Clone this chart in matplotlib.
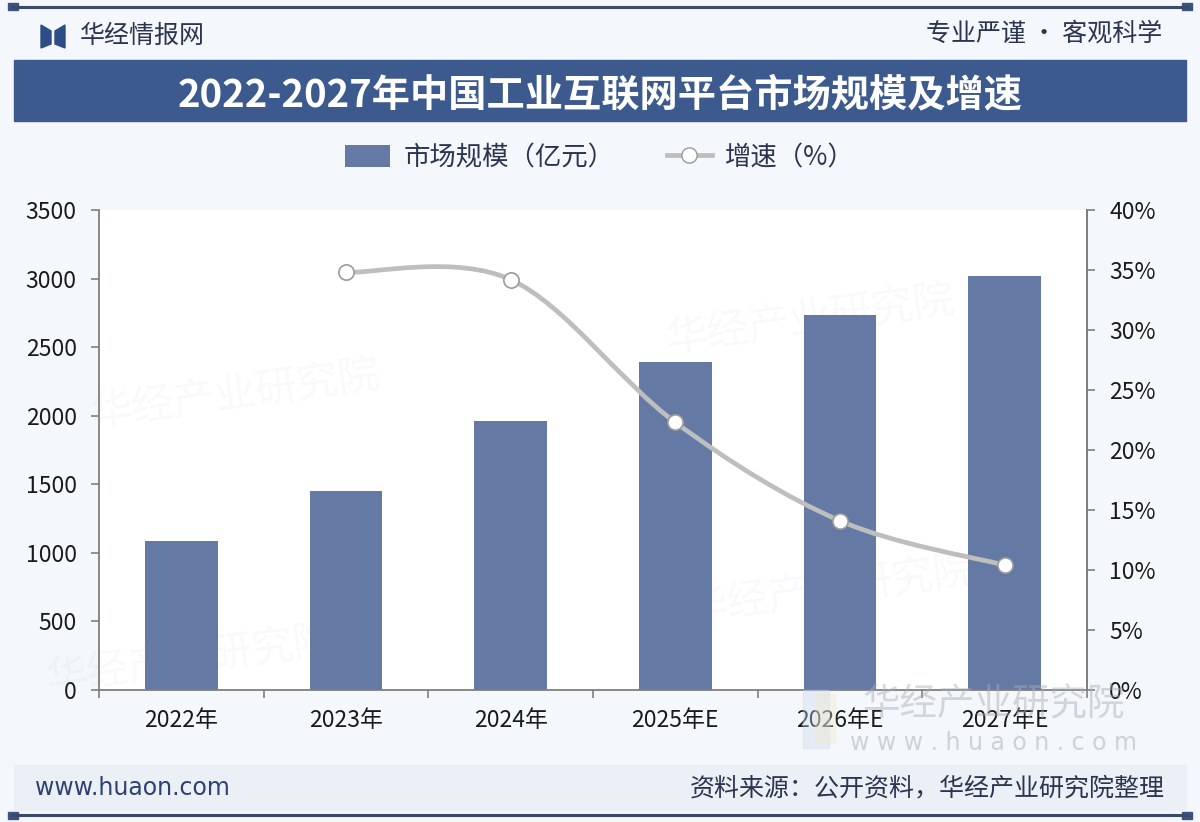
import numpy as np
import matplotlib
matplotlib.use("Agg")
import matplotlib.pyplot as plt
from matplotlib.path import Path
from matplotlib.patches import PathPatch, Rectangle, Polygon, Patch
from matplotlib.lines import Line2D
from matplotlib.ticker import FuncFormatter, MultipleLocator

plt.rcParams["font.family"] = ["Noto Sans CJK SC", "DejaVu Sans"]

# data
years = ["2022年", "2023年", "2024年", "2025年E", "2026年E", "2027年E"]
market_size = [1085, 1450, 1960, 2395, 2735, 3020]        # 亿元
growth = [None, 34.8, 34.2, 22.3, 14.1, 10.4]             # %

bar_color = "#6479A3"
navy = "#3D5A8E"
text_dark = "#2B3550"
line_gray = "#BEBEBE"

fig = plt.figure(figsize=(12, 8.22), dpi=100)
fig.patch.set_facecolor("#F4F7FB")

W, H = 1200, 822


def fx(px):
    return px / W


def fy(py):
    return 1 - py / H


# header lines
for y in (7, 815):
    fig.add_artist(Line2D([fx(12), fx(1188)], [fy(y), fy(y)], color="#3A4A68", lw=2.2))
    for x0 in (8, 1182):
        fig.add_artist(Rectangle((fx(x0), fy(y + 3.5)), fx(10), 7 / H, color="#3A5483"))

# logo
fig.add_artist(Polygon([[fx(41), fy(25)], [fx(51), fy(31)], [fx(51), fy(44)], [fx(41), fy(48)]],
                       closed=True, color="#2E4C86"))
fig.add_artist(Polygon([[fx(55), fy(31)], [fx(65), fy(25)], [fx(65), fy(48)], [fx(55), fy(44)]],
                       closed=True, color="#2E4C86"))
fig.text(fx(80), fy(36), "华经情报网", fontsize=18, color=text_dark, va="center", ha="left")
fig.text(fx(1162), fy(34), "专业严谨 • 客观科学", fontsize=18, color=text_dark, va="center", ha="right")

# title banner
fig.add_artist(Rectangle((fx(14), fy(121)), fx(1172), 61 / H, color=navy))
fig.text(0.5, fy(95), "2022-2027年中国工业互联网平台市场规模及增速", fontsize=27.5,
         fontweight="heavy", color="white", ha="center", va="center")

# footer band
fig.add_artist(Rectangle((fx(14), fy(810)), fx(1172), 45 / H, color="#EBEFF6"))
fig.text(fx(35), fy(788), "www.huaon.com", fontsize=17, color="#2E4170", va="center", ha="left",
         family=["DejaVu Sans"])
fig.text(fx(1165), fy(788), "资料来源：公开资料，华经产业研究院整理", fontsize=18, color=text_dark,
         va="center", ha="right")

# faint watermarks
for (x, y) in [(235, 395), (810, 320), (830, 590), (190, 660)]:
    fig.text(fx(x), fy(y), "华经产业研究院", fontsize=30, color="#8090B0", alpha=0.05,
             ha="center", va="center", rotation=8)

ax = fig.add_axes([fx(99), fy(690), fx(1087 - 99), (690 - 210) / H])
ax.set_facecolor("white")
x = np.arange(len(years))
ax.bar(x, market_size, width=0.44, color=bar_color, zorder=2)
ax.set_xlim(-0.5, len(years) - 0.5)
ax.set_ylim(0, 3500)
ax.yaxis.set_major_locator(MultipleLocator(500))
ax.set_xticks(x)
ax.set_xticklabels(years)
ax.set_xticks(np.arange(-0.5, len(years), 1.0), minor=True)
ax.tick_params(axis="x", which="major", length=0, labelsize=16.5, pad=14, colors="#1A1A1A")
ax.tick_params(axis="x", which="minor", length=6, width=1.2, color="#7F7F7F", direction="out")
ax.tick_params(axis="y", length=6, width=1.2, color="#7F7F7F", labelsize=16.5, pad=10,
               labelcolor="#1A1A1A")
ax.spines["top"].set_visible(False)
for side in ("left", "right", "bottom"):
    ax.spines[side].set_color("#7F7F7F")
    ax.spines[side].set_linewidth(1.3)

ax2 = ax.twinx()
ax2.set_ylim(0, 40)
ax2.yaxis.set_major_locator(MultipleLocator(5))
ax2.yaxis.set_major_formatter(FuncFormatter(lambda v, p: f"{v:.0f}%"))
ax2.tick_params(axis="y", length=6, width=1.2, color="#7F7F7F", labelsize=16.5, pad=10,
                labelcolor="#1A1A1A")
for side in ("top", "left", "bottom"):
    ax2.spines[side].set_visible(False)
ax2.spines["right"].set_color("#7F7F7F")
ax2.spines["right"].set_linewidth(1.3)

# smoothed growth line (Catmull-Rom style bezier, like Excel smoothing)
gx = np.array([i for i, g in enumerate(growth) if g is not None], dtype=float)
gy = np.array([g for g in growth if g is not None], dtype=float)
pts = np.column_stack([gx, gy])
verts = [pts[0]]
codes = [Path.MOVETO]
n = len(pts)
for i in range(n - 1):
    p0 = pts[i - 1] if i > 0 else pts[i]
    p1 = pts[i]
    p2 = pts[i + 1]
    p3 = pts[i + 2] if i + 2 < n else pts[i + 1]
    c1 = p1 + (p2 - p0) / 6
    c2 = p2 - (p3 - p1) / 6
    verts += [c1, c2, p2]
    codes += [Path.CURVE4] * 3
ax2.add_patch(PathPatch(Path(verts, codes), facecolor="none", edgecolor=line_gray, lw=3.4,
                        zorder=3, capstyle="round"))
ax2.plot(gx, gy, linestyle="none", marker="o", markersize=11, markerfacecolor="white",
         markeredgecolor="#9A9A9A", markeredgewidth=1.2, zorder=4)

# bottom-right watermark
fig.add_artist(Rectangle((fx(803), fy(748)), fx(26), 58 / H, color="#C9D9F0", alpha=0.35, zorder=0.5))
fig.add_artist(Rectangle((fx(815), fy(742)), fx(20), 48 / H, color="#F3E8C0", alpha=0.3, zorder=0.5))
fig.text(fx(993), fy(705), "华经产业研究院", fontsize=27, color="#A8ADB6", alpha=0.45,
         ha="center", va="center")
fig.text(fx(993), fy(743), "w w w . h u a o n . c o m", fontsize=17, color="#A8ADB6", alpha=0.5,
         ha="center", va="center", family=["DejaVu Sans"])

# legend
handles = [Patch(facecolor=bar_color, edgecolor="none"),
           Line2D([0], [0], color=line_gray, lw=3.4, marker="o", markersize=11,
                  markerfacecolor="white", markeredgecolor="#9A9A9A")]
fig.legend(handles, ["市场规模（亿元）", "增速（%）"], loc="center", bbox_to_anchor=(0.5, fy(158)),
           ncol=2, frameon=False, fontsize=19, handlelength=1.7, handleheight=0.9,
           columnspacing=2.0, handletextpad=0.5, labelcolor=text_dark)

fig.savefig("out.png", dpi=100, facecolor=fig.get_facecolor())
